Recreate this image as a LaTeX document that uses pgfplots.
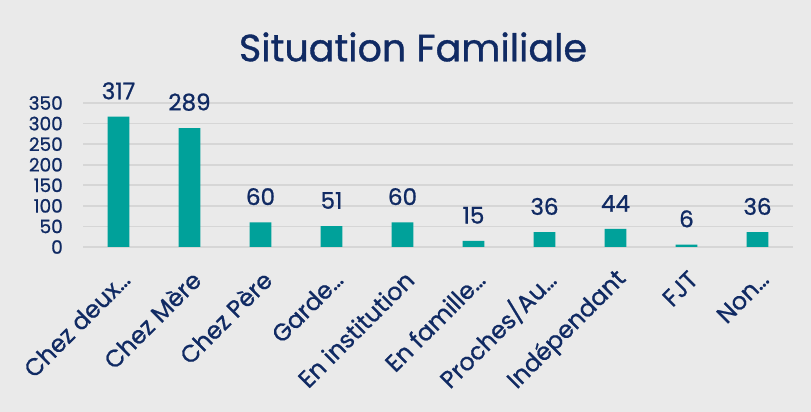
\documentclass[border=0pt]{standalone}
\usepackage{fontspec}
\setmainfont{Poppins}[FakeBold=0.9, UprightFeatures={FakeBold=0.9}]
\usepackage{pgfplots}
\pgfplotsset{compat=1.18}
\definecolor{navy}{RGB}{16,42,99}
\definecolor{teal2}{RGB}{0,161,154}
\definecolor{bggray}{RGB}{234,234,234}
\definecolor{gridgray}{RGB}{214,214,214}
\begin{document}
\begin{tikzpicture}[x=1pt,y=1pt]
\fill[bggray] (0,0) rectangle (811,412);
\useasboundingbox (0,0) rectangle (811,412);
\node[text=navy, font=\fontsize{38}{46}\selectfont] at (413,365) {Situation Familiale};
\begin{axis}[
  at={(83pt,165pt)}, anchor=south west,
  scale only axis, width=710pt, height=144pt,
  xmin=-0.5, xmax=9.5, ymin=0, ymax=350,
  ytick={0,50,...,350},
  xtick={0,...,9},
  xticklabels={Chez deux…, Chez Mère, Chez Père, Garde…, En institution, En famille…, Proches/Au…, Indépendant, FJT, Non…},
  axis line style={draw=none},
  major tick length=0pt,
  ymajorgrids, grid style={gridgray, line width=1.6pt},
  /pgf/number format/assume math mode=true,
  yticklabel style={text=navy, font=\fontsize{18.5}{20}\selectfont, inner sep=0pt, xshift=-20pt},
  xticklabel style={text=navy, font=\fontsize{24}{26}\selectfont, rotate=45, anchor=east, inner sep=0pt, yshift=-25pt, xshift=-15pt},
  nodes near coords,
  every node near coord/.append style={text=navy, font=\fontsize{23}{26}\selectfont, anchor=south, inner sep=0pt, yshift=17pt},
]
\addplot[ybar, bar width=21.6pt, fill=teal2, draw=none] coordinates {
(0,317) (1,289) (2,60) (3,51) (4,60) (5,15) (6,36) (7,44) (8,6) (9,36)
};
\end{axis}
\end{tikzpicture}
\end{document}
